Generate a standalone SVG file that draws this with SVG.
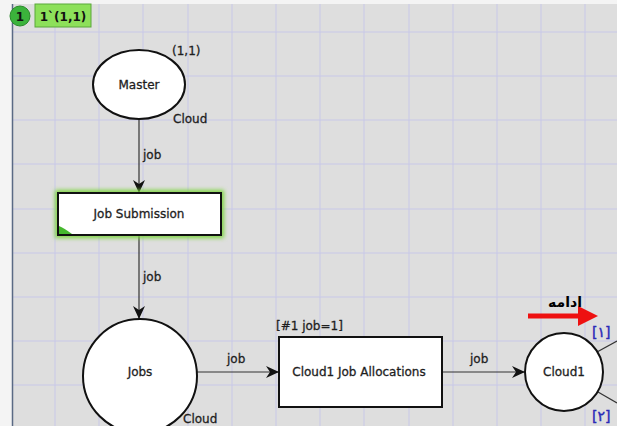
<svg xmlns="http://www.w3.org/2000/svg" width="617" height="426" viewBox="0 0 617 426">
<style>
.t{font-family:"DejaVu Sans","Liberation Sans",sans-serif;font-size:12px;fill:#1e1e1e;stroke:#1e1e1e;stroke-width:0.3}
.c{text-anchor:middle}
.node{fill:#ffffff;stroke:#111;stroke-width:2}
.arc{fill:none;stroke:#333;stroke-width:1.2}
.grid line{stroke:#c8c8e8;stroke-width:1}
.blue{font-family:"DejaVu Sans",sans-serif;font-size:14px;fill:#2a2ab8;stroke:#2a2ab8;stroke-width:0.4}
</style>
<defs>
<marker id="ah" markerWidth="14" markerHeight="12" refX="13" refY="6" orient="auto" markerUnits="userSpaceOnUse">
<path d="M0,0 L13,6 L0,12 L4,6 Z" fill="#111"/>
</marker>
<filter id="glow" x="-20%" y="-40%" width="140%" height="180%">
<feGaussianBlur stdDeviation="2"/>
</filter>
</defs>
<rect x="0" y="0" width="617" height="426" fill="#f4f4f4"/>
<rect x="13" y="4" width="604" height="422" fill="#dedede"/>
<g class="grid">
<line x1="55" y1="4" x2="55" y2="426"/><line x1="99" y1="4" x2="99" y2="426"/><line x1="143" y1="4" x2="143" y2="426"/><line x1="188" y1="4" x2="188" y2="426"/><line x1="232" y1="4" x2="232" y2="426"/><line x1="276" y1="4" x2="276" y2="426"/><line x1="320" y1="4" x2="320" y2="426"/><line x1="364" y1="4" x2="364" y2="426"/><line x1="409" y1="4" x2="409" y2="426"/><line x1="453" y1="4" x2="453" y2="426"/><line x1="497" y1="4" x2="497" y2="426"/><line x1="541" y1="4" x2="541" y2="426"/><line x1="585" y1="4" x2="585" y2="426"/>
<line x1="13" y1="32" x2="617" y2="32"/><line x1="13" y1="76" x2="617" y2="76"/><line x1="13" y1="120" x2="617" y2="120"/><line x1="13" y1="164" x2="617" y2="164"/><line x1="13" y1="209" x2="617" y2="209"/><line x1="13" y1="253" x2="617" y2="253"/><line x1="13" y1="297" x2="617" y2="297"/><line x1="13" y1="341" x2="617" y2="341"/><line x1="13" y1="385" x2="617" y2="385"/>
</g>
<line x1="12.5" y1="4" x2="12.5" y2="426" stroke="#5a6a84" stroke-width="1.5"/>

<g id="token">
<circle cx="20" cy="16" r="10" fill="#3bb33b" stroke="#2a8a2a" stroke-width="1"/>
<text x="20" y="21" class="c" style="font-family:'DejaVu Sans',sans-serif;font-weight:bold;font-size:12px;fill:#111">1</text>
<rect x="35" y="4" width="56" height="23" fill="#8de05a" stroke="#5aa83a" stroke-width="1"/>
<text x="63" y="21" class="c" style="font-family:'DejaVu Sans',sans-serif;font-weight:bold;font-size:12px;fill:#111">1`(1,1)</text>
</g>

<g id="connectors">
<line x1="139" y1="119" x2="139" y2="193" class="arc" marker-end="url(#ah)"/>
<text x="143" y="159" class="t">job</text>
<line x1="139" y1="236" x2="139" y2="319" class="arc" marker-end="url(#ah)"/>
<text x="143" y="281" class="t">job</text>
<line x1="197" y1="372" x2="279" y2="372" class="arc" marker-end="url(#ah)"/>
<text x="227" y="363" class="t">job</text>
<line x1="442" y1="372" x2="525" y2="372" class="arc" marker-end="url(#ah)"/>
<text x="470" y="363" class="t">job</text>
<line x1="597" y1="352" x2="617" y2="341" class="arc"/>
<line x1="598" y1="392" x2="617" y2="403" class="arc"/>
</g>

<g id="master">
<ellipse cx="139" cy="84.5" rx="46" ry="34.5" class="node"/>
<text x="139" y="89" class="t c">Master</text>
<text x="172" y="55" class="t">(1,1)</text>
<text x="173" y="123" class="t">Cloud</text>
</g>

<g id="job-submission">
<rect x="58" y="193" width="163" height="42" fill="none" stroke="#7cd43c" stroke-width="6" filter="url(#glow)"/>
<rect x="58" y="193" width="163" height="42" class="node" stroke="#1a2a1a"/>
<path d="M59,234 L72,234 Q64,228 59,226 Z" fill="#46b82e"/>
<text x="139" y="218" class="t c">Job Submission</text>
</g>

<g id="jobs">
<circle cx="140" cy="376" r="57" class="node"/>
<text x="140" y="376" class="t c">Jobs</text>
<text x="183" y="423" class="t">Cloud</text>
</g>

<g id="allocations">
<rect x="279" y="337" width="163" height="70" class="node"/>
<text x="359" y="376" class="t c">Cloud1 Job Allocations</text>
<text x="276" y="330" class="t">[#1 job=1]</text>
</g>

<g id="cloud1">
<circle cx="564" cy="372" r="39" class="node"/>
<text x="564" y="376" class="t c">Cloud1</text>
<text x="592" y="337" class="blue">[۱]</text>
<text x="592" y="421" class="blue">[۲]</text>
</g>

<g id="continue">
<line x1="528" y1="316" x2="582" y2="316" stroke="#ee1111" stroke-width="5"/>
<path d="M578,306 L598,316 L578,326 Z" fill="#ee1111"/>
<text x="565" y="307" class="c" style="font-family:'DejaVu Sans',sans-serif;font-weight:bold;font-size:14px;fill:#000" direction="rtl">ادامه</text>
</g>
</svg>
